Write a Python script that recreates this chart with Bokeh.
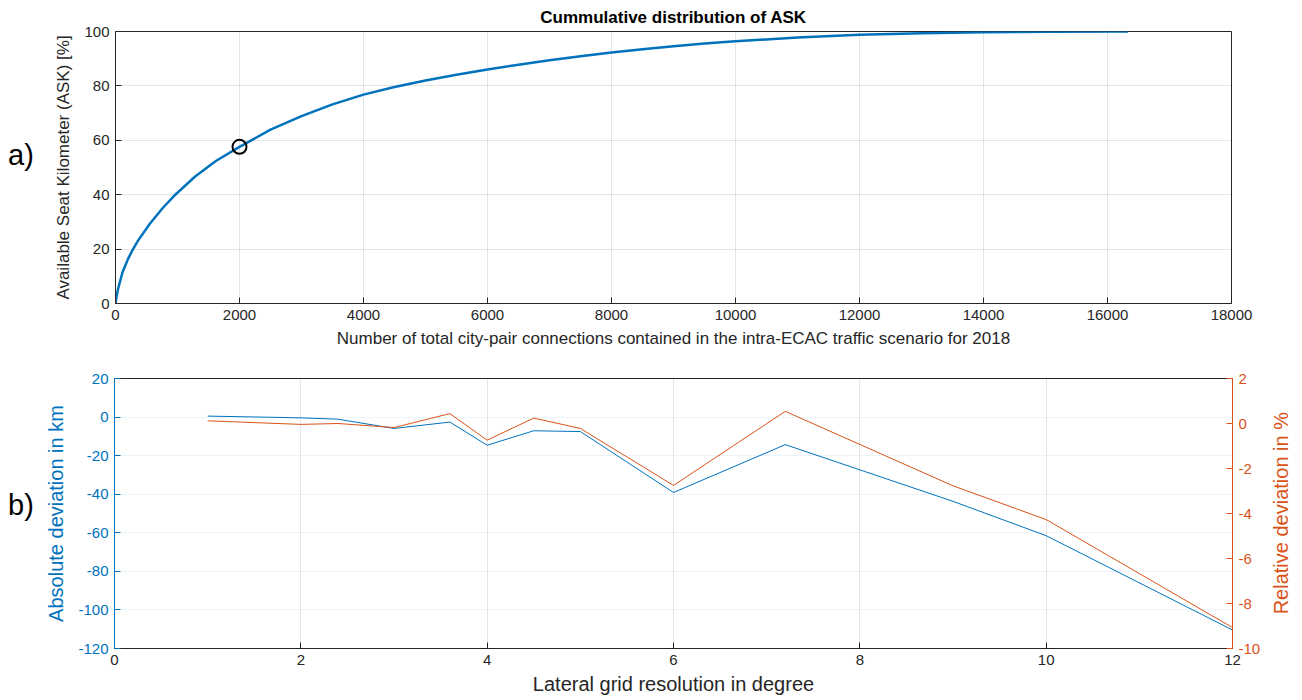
from bokeh.plotting import figure
from bokeh.models import Range1d, LinearAxis, FixedTicker, Div, CustomJSTickFormatter
from bokeh.layouts import column, row
from bokeh.embed import file_html
from bokeh.resources import INLINE

# ---------------- data: panel a) ----------------
ask_x = [0, 20, 43, 113, 204, 290, 366, 554, 769, 946, 1280, 1618,
         2000, 2500, 3000, 3500, 4000, 4500, 5000, 5500, 6000, 6500, 7000, 7500,
         8000, 8500, 9000, 9500, 10000, 11000, 12000, 13000, 14000, 15000, 16330]
ask_y = [0, 2.9, 5.5, 11.5, 16.5, 20.3, 23.2, 29.3, 35.3, 39.6, 46.6, 52.4,
         57.6, 63.9, 68.9, 73.2, 76.8, 79.6, 82.0, 84.1, 86.0, 87.8, 89.4, 90.9,
         92.3, 93.5, 94.6, 95.6, 96.4, 97.8, 98.8, 99.4, 99.75, 99.9, 100.0]
marker_x = [2000]
marker_y = [57.6]
a_xticks = [0, 2000, 4000, 6000, 8000, 10000, 12000, 14000, 16000, 18000]
a_yticks = [0, 20, 40, 60, 80, 100]

# ---------------- data: panel b) ----------------
res_x = [1, 2, 2.4, 3, 3.6, 4, 4.5, 5, 6, 7.2, 9, 10, 12]
abs_dev = [0.5, -0.4, -1.1, -5.9, -2.6, -14.6, -7.1, -7.5, -39.1, -14.3, -43.7, -61.5, -110.4]
rel_dev = [0.12, -0.04, 0.0, -0.18, 0.44, -0.74, 0.24, -0.22, -2.75, 0.54, -2.77, -4.27, -9.07]
b_xticks = [0, 2, 4, 6, 8, 10, 12]
b_lticks = [-120, -100, -80, -60, -40, -20, 0, 20]
b_rticks = [-10, -8, -6, -4, -2, 0, 2]

FONT = "Liberation Sans"
DARK = "#262626"
BLUE = "#0072BD"
ORANGE = "#D95319"
LEFT_PAD = 40
RIGHT_PAD = 38


def style_axis(ax, size="15px", color=DARK, line_color=DARK):
    ax.formatter = CustomJSTickFormatter(code="return tick.toString();")
    ax.major_label_text_font = FONT
    ax.major_label_text_font_size = size
    ax.major_label_text_color = color
    ax.major_label_standoff = 6
    ax.axis_label_text_font = FONT
    ax.axis_label_text_font_style = "normal"
    ax.axis_label_text_color = color
    ax.axis_line_color = line_color
    ax.major_tick_line_color = line_color
    ax.major_tick_in = 6
    ax.major_tick_out = 0
    ax.minor_tick_line_color = None


def panel_label(text, top, height):
    return Div(text=('<div style="font-family:\'Liberation Sans\';font-size:29px;'
                     'line-height:32px;padding-top:%dpx;padding-left:8px;color:black">%s</div>'
                     % (top, text)),
               width=LEFT_PAD, height=height, margin=(0, 0, 0, 0))


# ---------------- panel a) ----------------
p1 = figure(width=1302 - LEFT_PAD, height=355, x_range=Range1d(0, 18000), y_range=Range1d(0, 100),
            output_backend="svg", toolbar_location=None,
            min_border_left=115 - LEFT_PAD, min_border_right=71, min_border_top=31,
            min_border_bottom=52)
p1.outline_line_color = DARK
p1.outline_line_alpha = 1
p1.title.text = "Cummulative distribution of ASK"
p1.title.align = "center"
p1.title.text_font = FONT
p1.title.text_font_size = "17px"
p1.title.text_font_style = "bold"
p1.title.text_color = "black"

p1.xaxis.ticker = FixedTicker(ticks=a_xticks)
p1.yaxis.ticker = FixedTicker(ticks=a_yticks)
p1.xaxis.axis_label = "Number of total city-pair connections contained in the intra-ECAC traffic scenario for 2018"
p1.yaxis.axis_label = "Available Seat Kilometer (ASK) [%]"
for ax in p1.xaxis + p1.yaxis:
    style_axis(ax, "15px")
p1.xaxis.axis_label_text_font_size = "17px"
p1.yaxis.axis_label_text_font_size = "17px"
p1.xaxis.axis_label_standoff = 6
p1.yaxis.axis_label_standoff = 8
p1.xgrid.grid_line_color = DARK
p1.xgrid.grid_line_alpha = 0.12
p1.ygrid.grid_line_color = DARK
p1.ygrid.grid_line_alpha = 0.12

p1.line(ask_x, ask_y, line_color=BLUE, line_width=2.5, line_join="round")
p1.scatter(marker_x, marker_y, marker="circle", size=14, fill_color=None,
           line_color="black", line_width=2)

# ---------------- panel b) ----------------
p2 = figure(width=1302 - LEFT_PAD - RIGHT_PAD, height=345, x_range=Range1d(0, 12),
            y_range=Range1d(-120, 20),
            output_backend="svg", toolbar_location=None,
            min_border_left=114 - LEFT_PAD, min_border_right=1302 - RIGHT_PAD - 1232,
            min_border_top=23, min_border_bottom=52)
p2.outline_line_color = DARK
p2.extra_y_ranges = {"rel": Range1d(-10, 2)}
raxis = LinearAxis(y_range_name="rel", ticker=FixedTicker(ticks=b_rticks))
p2.add_layout(raxis, "right")

p2.xaxis.ticker = FixedTicker(ticks=b_xticks)
p2.yaxis[0].ticker = FixedTicker(ticks=b_lticks)
p2.xaxis.axis_label = "Lateral grid resolution in degree"
p2.yaxis[0].axis_label = "Absolute deviation in km"
for ax in p2.xaxis:
    style_axis(ax, "15px")
style_axis(p2.yaxis[0], "15px", BLUE, BLUE)
style_axis(raxis, "15px", ORANGE, ORANGE)
p2.xaxis.axis_label_text_font_size = "20px"
p2.yaxis[0].axis_label_text_font_size = "20px"
p2.xaxis.axis_label_standoff = 5
p2.yaxis[0].axis_label_standoff = 8
p2.xgrid.grid_line_color = DARK
p2.xgrid.grid_line_alpha = 0.12
p2.ygrid.grid_line_color = BLUE
p2.ygrid.grid_line_alpha = 0.08

p2.line(res_x, abs_dev, line_color=BLUE, line_width=1)
p2.line(res_x, rel_dev, line_color=ORANGE, line_width=1, y_range_name="rel")

right_label = Div(
    text=('<div style="width:%dpx;height:270px;margin-top:23px;display:flex;'
          'align-items:center;justify-content:center;">'
          '<span style="writing-mode:vertical-rl;transform:rotate(180deg);'
          'font-family:\'Liberation Sans\';font-size:20px;color:%s;white-space:nowrap;'
          'line-height:22px">Relative deviation in %%</span></div>') % (RIGHT_PAD - 4, ORANGE),
    width=RIGHT_PAD, height=345, margin=(0, 0, 0, 0))

layout = column(row(panel_label("a)", 139, 355), p1, spacing=0),
                row(panel_label("b)", 134, 345), p2, right_label, spacing=0),
                spacing=0)
open("out.html", "w").write(file_html(layout, INLINE))
